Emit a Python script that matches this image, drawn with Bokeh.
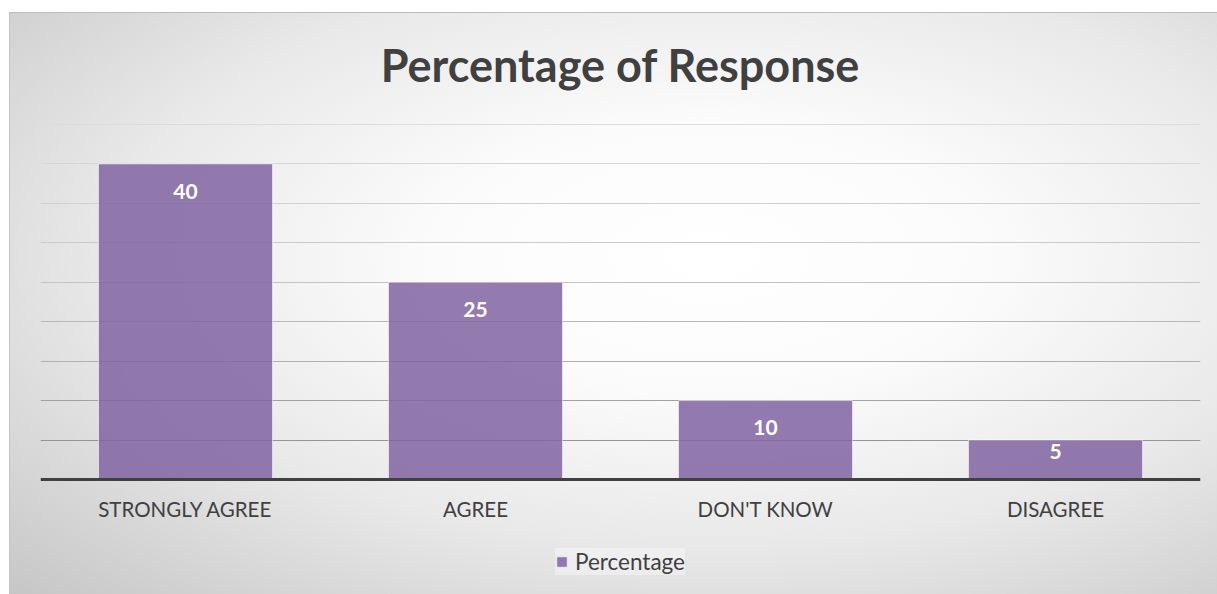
from bokeh.plotting import figure
from bokeh.models import (ColumnDataSource, FactorRange, Range1d, Grid, FixedTicker,
                          Legend, LegendItem, InlineStyleSheet)
from bokeh.core.properties import value
from bokeh.embed import file_html
from bokeh.resources import INLINE

# --- data ---
categories = ["STRONGLY AGREE", "AGREE", "DON'T KNOW", "DISAGREE"]
percentages = [40, 25, 10, 5]
grid_ticks = [5, 10, 15, 20, 25, 30, 35, 40, 45]
series_name = "Percentage"
chart_title = "Percentage of Response"

FONT = "Lato"
TEXT_GRAY = "#404040"
BAR_PURPLE = "#8064A2"

# value labels sit a fixed distance under the bar top, closer for short bars
label_y = [v - 3.45 if v > 8 else v - 1.5 for v in percentages]

source = ColumnDataSource(data=dict(
    cat=categories,
    pct=percentages,
    txt=[str(v) for v in percentages],
    label_y=label_y,
))

# the frame runs down to the bottom edge; the category axis is pinned at y=0
# and the legend sits in the strip under it
p = figure(
    frame_width=1160, frame_height=474,
    x_range=FactorRange(*categories, range_padding=0),
    y_range=Range1d(-14.58, 45.5),
    output_backend="svg",
    toolbar_location=None,
    title=chart_title,
    min_border_left=40, min_border_right=17,
    min_border_top=120, min_border_bottom=0,
)

# radial gray-to-white chart background with a thin frame line
bg_css = """
:host {
  background-color: #ffffff;
  background-image:
    linear-gradient(#bcbcbc, #bcbcbc),
    linear-gradient(#c4c4c4, #c4c4c4),
    radial-gradient(ellipse farthest-corner at 58% 42%, #ffffff 0%, #fbfbfb 28%, #e9e9e9 60%, #c6c6c6 100%);
  background-size: 1208px 1px, 1px 582px, 1208px 582px;
  background-position: 9px 12px, 9px 12px, 9px 12px;
  background-repeat: no-repeat;
}
"""
p.stylesheets = [InlineStyleSheet(css=bg_css)]
p.border_fill_alpha = 0
p.background_fill_alpha = 0
p.outline_line_color = None

# title
p.title.text_font = FONT
p.title.text_font_size = "45px"
p.title.text_font_style = "bold"
p.title.text_color = TEXT_GRAY
p.title.align = "center"
p.title.standoff = 58

# gridlines: darker toward the baseline
p.xgrid.visible = False
p.ygrid.visible = False
grid_colors = ["#959595", "#a2a2a2", "#b0b0b0", "#b8b8b8", "#c2c2c2",
               "#cacaca", "#d0d0d0", "#d6d6d6", "#dcdcdc"]
for t, c in zip(grid_ticks, grid_colors):
    p.add_layout(Grid(dimension=1, ticker=FixedTicker(ticks=[t]),
                      grid_line_color=c, grid_line_width=1.2))

# bars
bars = p.vbar(x="cat", top="pct", width=0.6, source=source,
              fill_color=BAR_PURPLE, fill_alpha=0.85,
              line_color="#ffffff", line_alpha=0.55, line_width=1)

# value labels
p.text(x="cat", y="label_y", text="txt", source=source,
       text_font=value(FONT), text_font_size="21px", text_font_style="bold",
       text_color="#ffffff", text_align="center", text_baseline="middle")

# axes
p.yaxis.visible = False
xa = p.xaxis[0]
xa.fixed_location = 0
xa.axis_line_color = TEXT_GRAY
xa.axis_line_width = 3
xa.major_tick_line_color = None
xa.minor_tick_line_color = None
xa.major_label_text_font = FONT
xa.major_label_text_font_size = "20.5px"
xa.major_label_text_color = TEXT_GRAY
xa.major_label_standoff = 12

# legend at the bottom
legend = Legend(
    items=[LegendItem(label=series_name, renderers=[bars])],
    location="bottom_center",
    orientation="horizontal",
    label_text_font=FONT, label_text_font_size="22.5px", label_text_color=TEXT_GRAY,
    glyph_width=13, glyph_height=13, label_standoff=7,
    padding=10, margin=19,
    background_fill_color="#ffffff", background_fill_alpha=0.35,
    border_line_color=None,
)
p.add_layout(legend, "center")

open("out.html", "w").write(file_html(p, INLINE))
